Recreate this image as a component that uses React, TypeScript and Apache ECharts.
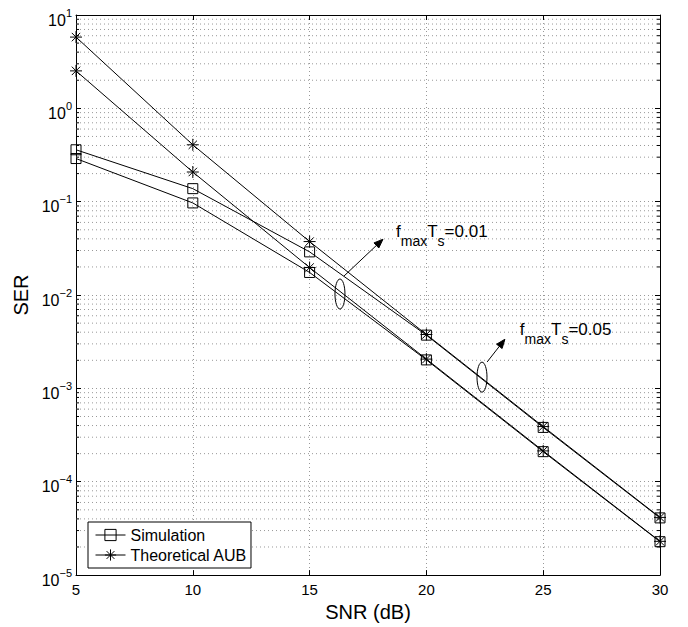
import React, { useEffect, useRef } from "react";
import * as echarts from "echarts";

// SNR (dB)
const snr = [5, 10, 15, 20, 25, 30];
// f_max T_s = 0.01
const simLow = [0.29, 0.097, 0.01746, 0.00202, 2.1e-4, 2.28e-5];
const theoLow = [2.52, 0.208, 0.0197, 0.00206, 2.14e-4, 2.3e-5];
// f_max T_s = 0.05
const simHigh = [0.36, 0.138, 0.029, 0.00372, 3.82e-4, 4.1e-5];
const theoHigh = [5.8, 0.407, 0.0374, 0.00378, 3.9e-4, 4.15e-5];

const xTicks = [5, 10, 15, 20, 25, 30];
const decadeExponents = [-5, -4, -3, -2, -1, 0];
const minorMultipliers = [2, 3, 4, 5, 6, 7, 8, 9];

const legendNames = ["Simulation", "Theoretical AUB"];

// annotation anchors in data coordinates
const ann1 = {
  label: "0.01",
  ellipse: [16.3, 0.01026],
  arrowFrom: [16.47, 0.01596],
  arrowTo: [18.14, 0.0396],
  text: [18.7, 0.0593],
};
const ann2 = {
  label: "0.05",
  ellipse: [22.38, 0.00132],
  arrowFrom: [22.6, 0.00192],
  arrowTo: [23.36, 0.00336],
  text: [24.0, 0.00528],
};

const FONT = "'Liberation Sans', Arial, Helvetica, sans-serif";
const STAR = "path://M10,0L10,20M0,10L20,10M3,3L17,17M3,17L17,3";

export default function App() {
  const ref = useRef<HTMLDivElement>(null);

  useEffect(() => {
    document.body.style.margin = "0";
    const chart = echarts.init(ref.current!, null, { renderer: "svg" });

    const minorVals: number[] = [];
    decadeExponents.forEach((e) =>
      minorMultipliers.forEach((m) => minorVals.push(m * Math.pow(10, e)))
    );

    const mkSeries = (name: string, vals: number[], symbol: string, size: number) => ({
      type: "line",
      name,
      data: snr.map((x, i) => [x, vals[i]]),
      symbol,
      symbolSize: size,
      showAllSymbol: true,
      lineStyle: { color: "#000", width: 1 },
      itemStyle: { color: "rgba(255,255,255,0)", borderColor: "#000", borderWidth: 1 },
      emphasis: { disabled: true },
      silent: true,
      z: 3,
    });

    const axisLine = { show: true, onZero: false, lineStyle: { color: "#000", width: 1 } };
    const tick = { show: true, inside: true, length: 5, lineStyle: { color: "#000", width: 1 } };

    const option: any = {
      animation: false,
      textStyle: { fontFamily: FONT },
      grid: { left: 76, right: 28, top: 15, bottom: 49, containLabel: false },
      legend: {
        data: legendNames,
        orient: "vertical",
        left: 88,
        top: 522,
        itemWidth: 30,
        itemHeight: 14,
        itemGap: 4,
        padding: [5, 4, 5, 7],
        borderColor: "#000",
        borderWidth: 1,
        borderRadius: 0,
        backgroundColor: "#fff",
        selectedMode: false,
        lineStyle: { width: 1, color: "#000" },
        itemStyle: { borderWidth: 1, borderColor: "#000", color: "rgba(255,255,255,0)" },
        textStyle: { fontSize: 16, color: "#000", fontFamily: FONT },
        z: 10,
      },
      xAxis: [
        {
          type: "value",
          min: xTicks[0],
          max: xTicks[xTicks.length - 1],
          interval: 5,
          position: "bottom",
          axisLine,
          axisTick: tick,
          axisLabel: {
            color: "#000",
            fontSize: 15,
            margin: 7,
            fontFamily: FONT,
          },
          splitLine: { show: true, lineStyle: { type: [1, 3], color: "#999", width: 1 } },
          name: "SNR (dB)",
          nameLocation: "middle",
          nameGap: 18,
          nameTextStyle: { fontSize: 20, color: "#000", fontFamily: FONT },
        },
        {
          type: "value",
          min: xTicks[0],
          max: xTicks[xTicks.length - 1],
          interval: 5,
          position: "top",
          axisLine,
          axisTick: tick,
          axisLabel: { show: false },
          splitLine: { show: false },
        },
      ],
      yAxis: [
        {
          type: "log",
          logBase: 10,
          min: 1e-5,
          max: 10,
          splitNumber: 6,
          position: "left",
          axisLine,
          axisTick: tick,
          axisLabel: {
            margin: 4,
            formatter: (v: number) => {
              const e = Math.round(Math.log10(v));
              const s = e < 0 ? "\u2212" + Math.abs(e) : String(e);
              return "{b|10}{s|" + s + "}";
            },
            rich: {
              b: { fontSize: 16, lineHeight: 16, padding: [5, 0, 0, 0], color: "#000", fontFamily: FONT, verticalAlign: "top" },
              s: { fontSize: 11, lineHeight: 11, color: "#000", fontFamily: FONT, verticalAlign: "top" },
            },
          },
          splitLine: { show: true, lineStyle: { type: [1, 3], color: "#999", width: 1 } },
          name: "SER",
          nameLocation: "middle",
          nameGap: 41,
          nameTextStyle: { fontSize: 20, color: "#000", fontFamily: FONT },
        },
        {
          type: "log",
          logBase: 10,
          min: 1e-5,
          max: 10,
          splitNumber: 6,
          position: "right",
          axisLine,
          axisTick: tick,
          axisLabel: { show: false },
          splitLine: { show: false },
        },
      ],
      series: [
        {
          type: "custom",
          xAxisIndex: 0,
          yAxisIndex: 0,
          silent: true,
          clip: false,
          z: 1,
          data: minorVals.map((v) => [xTicks[0], v]),
          renderItem: (params: any, api: any) => {
            const v = api.value(1);
            const a = api.coord([xTicks[0], v]);
            const b = api.coord([xTicks[xTicks.length - 1], v]);
            return {
              type: "group",
              children: [
                {
                  type: "line",
                  shape: { x1: a[0], y1: a[1], x2: b[0], y2: b[1] },
                  style: { stroke: "#999", lineWidth: 1, lineDash: [1, 3] },
                },
                {
                  type: "line",
                  shape: { x1: a[0], y1: a[1], x2: a[0] + 3, y2: a[1] },
                  style: { stroke: "#000", lineWidth: 1 },
                },
                {
                  type: "line",
                  shape: { x1: b[0] - 3, y1: b[1], x2: b[0], y2: b[1] },
                  style: { stroke: "#000", lineWidth: 1 },
                },
              ],
            };
          },
        },
        mkSeries(legendNames[0], simLow, "rect", 10),
        mkSeries(legendNames[0], simHigh, "rect", 10),
        mkSeries(legendNames[1], theoLow, STAR, 12),
        mkSeries(legendNames[1], theoHigh, STAR, 12),
      ],
    };

    chart.setOption(option);

    const px = (p: number[]) =>
      chart.convertToPixel({ xAxisIndex: 0, yAxisIndex: 0 }, p) as number[];

    const buildAnn = (a: typeof ann1) => {
      const c = px(a.ellipse);
      const s = px(a.arrowFrom);
      const t = px(a.arrowTo);
      const tx = px(a.text);
      const dx = t[0] - s[0];
      const dy = t[1] - s[1];
      const len = Math.sqrt(dx * dx + dy * dy);
      const ux = dx / len;
      const uy = dy / len;
      const L = 9;
      const W = 3.5;
      const bx = t[0] - ux * L;
      const by = t[1] - uy * L;
      return [
        {
          type: "ellipse",
          shape: { cx: c[0], cy: c[1], rx: 5, ry: 15 },
          style: { fill: "none", stroke: "#000", lineWidth: 1 },
          z: 20,
        },
        {
          type: "line",
          shape: { x1: s[0], y1: s[1], x2: bx, y2: by },
          style: { stroke: "#000", lineWidth: 1 },
          z: 20,
        },
        {
          type: "polygon",
          shape: {
            points: [
              [t[0], t[1]],
              [bx - uy * W, by + ux * W],
              [bx + uy * W, by - ux * W],
            ],
          },
          style: { fill: "#000", stroke: "#000", lineWidth: 1 },
          z: 20,
        },
        {
          type: "text",
          x: tx[0],
          y: tx[1],
          z: 20,
          style: {
            text: "{m|f}{s|max}{m|T}{s|s}{m|=" + a.label + "}",
            align: "left",
            verticalAlign: "top",
            rich: {
              m: { fontSize: 17, lineHeight: 17, fill: "#000", fontFamily: FONT, verticalAlign: "top" },
              s: { fontSize: 14, lineHeight: 14, padding: [11, 0, 0, 0], fill: "#000", fontFamily: FONT, verticalAlign: "top" },
            },
          },
        },
      ];
    };

    chart.setOption({ graphic: [...buildAnn(ann1), ...buildAnn(ann2)] });

    return () => chart.dispose();
  }, []);

  return <div ref={ref} style={{ width: 688, height: 627 }} />;
}
